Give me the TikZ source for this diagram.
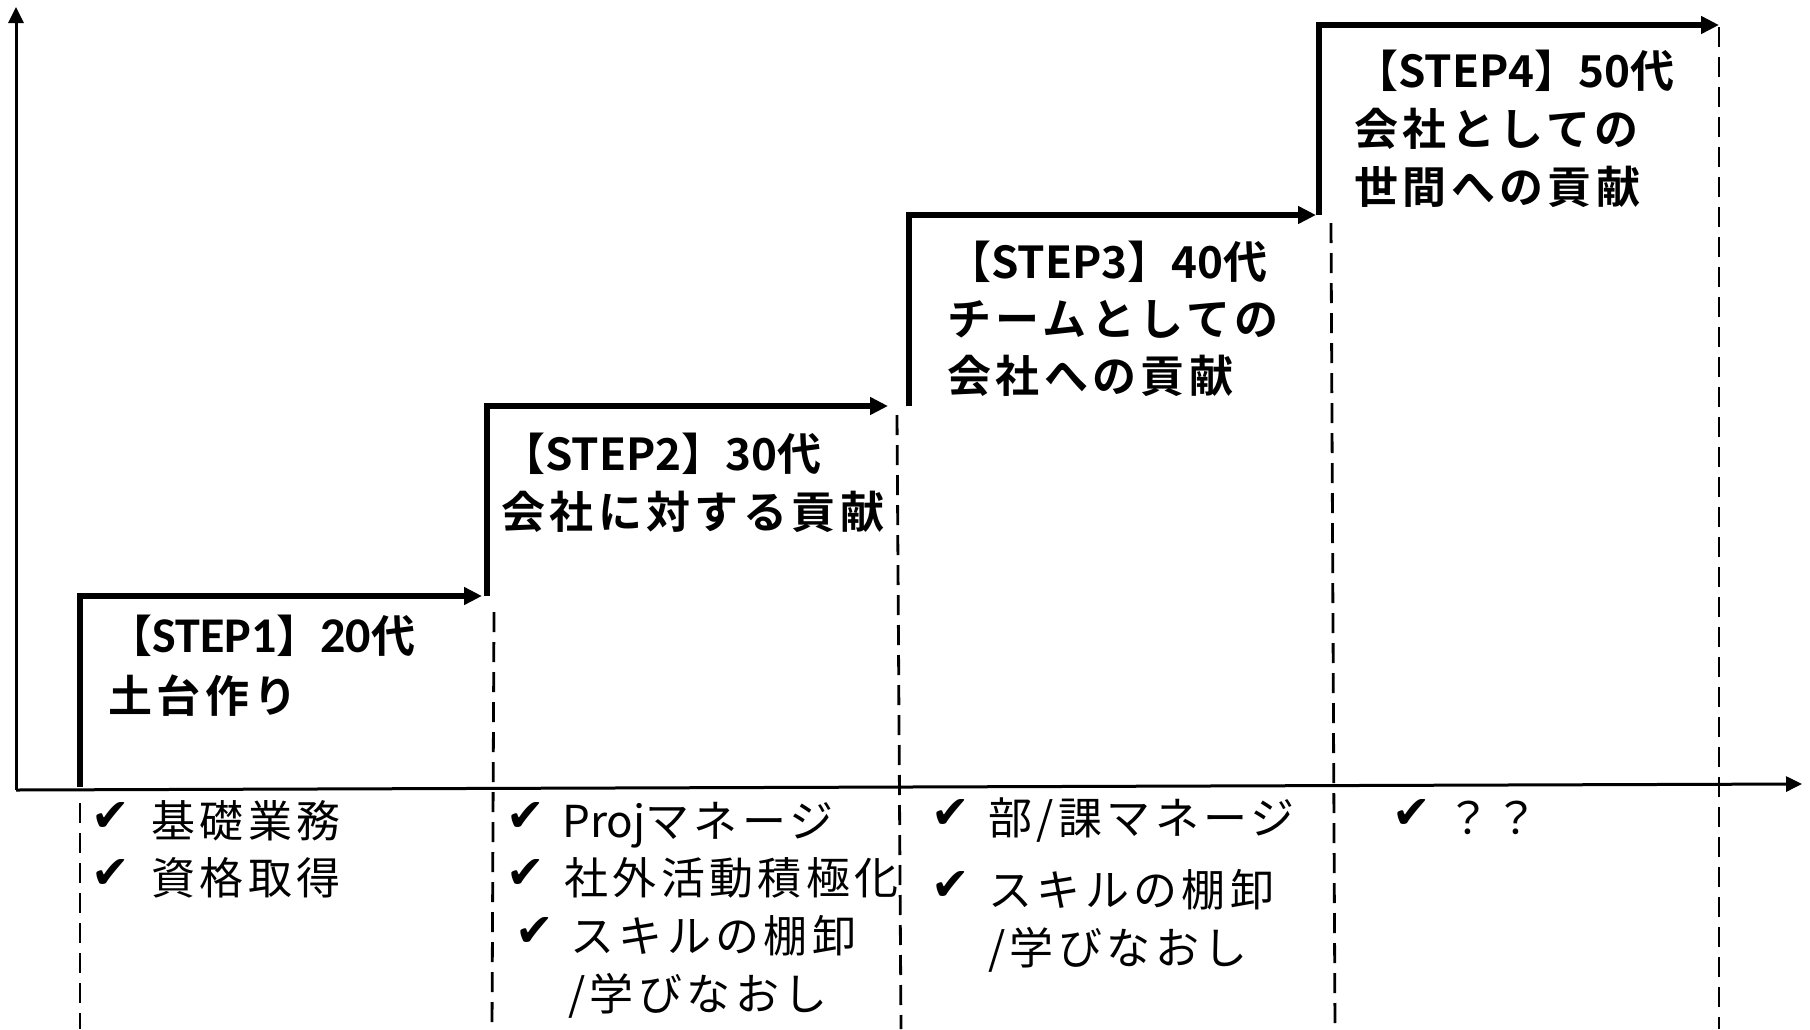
\documentclass[tikz,border=0pt]{standalone}
\usepackage{fontspec}
\usetikzlibrary{arrows.meta}
\newfontfamily\jpB{Noto Sans CJK JP Bold}[LetterSpace=10]
\newfontfamily\jpBn{Noto Sans CJK JP Bold}
\newfontfamily\jpR{Noto Sans CJK JP}[LetterSpace=10]
\newfontfamily\jpRn{Noto Sans CJK JP}
\newfontfamily\calB{Carlito Bold}
\newfontfamily\djv{DejaVu Sans}
\newcommand{\latb}[1]{{\jpBn #1}}
\newcommand{\latr}[1]{{\jpRn #1}}
\newcommand{\calt}[1]{{\calB\fontsize{50}{56}\selectfont #1}}
\tikzset{
  axisline/.style={line width=3pt, -{Triangle[length=16pt,width=15pt]}},
  stair/.style={line width=5.5pt, line join=miter, -{Triangle[length=18pt,width=17pt]}},
  guide/.style={line width=2.8pt, dash pattern=on 20pt off 10pt},
  ttl/.style={anchor=base west, inner sep=0pt, font=\jpB\fontsize{44}{52}\selectfont},
  itm/.style={anchor=base west, inner sep=0pt, font=\jpR\fontsize{44}{52}\selectfont},
  chk/.style={anchor=base west, inner sep=0pt, font=\djv\fontsize{46}{52}\selectfont},
}
\begin{document}
\begin{tikzpicture}[x=1pt,y=-1pt]
\useasboundingbox (0,0) rectangle (1810,1029);
% axes
\coordinate (o) at (16,790);
\coordinate (ytop) at (16,7);
\coordinate (xend) at (1802,784);
\draw[axisline] (o) -- (ytop);
\draw[axisline] (o) -- (xend);
% stairs
\coordinate (s1b) at (80,787);   \coordinate (s1e) at (482,596);
\coordinate (s2b) at (487,596);  \coordinate (s2e) at (888,406);
\coordinate (s3b) at (909,406);  \coordinate (s3e) at (1316,215);
\coordinate (s4b) at (1319,215); \coordinate (s4e) at (1719,25);
\draw[stair] (s1b) |- (s1e);
\draw[stair] (s2b) |- (s2e);
\draw[stair] (s3b) |- (s3e);
\draw[stair] (s4b) |- (s4e);
% dashed guides
\coordinate (d1t) at (80,803);   \coordinate (d1b) at (80,1029);
\coordinate (d2t) at (494,612);  \coordinate (d2b) at (492,1029);
\coordinate (d3t) at (897,415);  \coordinate (d3b) at (901,1029);
\coordinate (d4t) at (1331,223); \coordinate (d4b) at (1335,1029);
\coordinate (d5t) at (1719,27);  \coordinate (d5b) at (1719,1029);
\draw[guide] (d1t) -- (d1b);
\draw[guide] (d2t) -- (d2b);
\draw[guide] (d3t) -- (d3b);
\draw[guide] (d4t) -- (d4b);
\draw[guide] (d5t) -- (d5b);
% titles
\node[ttl] (t1a) at (108,652) {\jpBn 【\calt{STEP1}】\calt{20}代};
\node[ttl] (t1b) at (108,712) {土台作り};
\node[ttl] (t2a) at (501,470) {【\latb{STEP2}】\latb{30}代};
\node[ttl] (t2b) at (501,528) {会社に対する貢献};
\node[ttl] (t3a) at (947,278) {【\latb{STEP3}】\latb{40}代};
\node[ttl] (t3b) at (947,335) {チームとしての};
\node[ttl] (t3c) at (947,392) {会社への貢献};
\node[ttl] (t4a) at (1354,87) {【\latb{STEP4}】\latb{50}代};
\node[ttl] (t4b) at (1354,145) {会社としての};
\node[ttl] (t4c) at (1354,203) {世間への貢献};
% lists
\node[chk] (c11) at (91,831) {✔};
\node[itm] (l11) at (151,837) {基礎業務};
\node[chk] (c12) at (91,888) {✔};
\node[itm] (l12) at (151,894) {資格取得};
\node[chk] (c21) at (506,831) {✔};
\node[itm] (l21) at (562,837) {\latr{Proj}マネージ};
\node[chk] (c22) at (506,888) {✔};
\node[itm] (l22) at (564,894) {社外活動積極化};
\node[chk] (c23) at (515,946) {✔};
\node[itm] (l23) at (570,952) {スキルの棚卸};
\node[itm] (l24) at (568,1010) {/学びなおし};
\node[chk] (c31) at (931,828) {✔};
\node[itm] (l31) at (988,834) {部/課マネージ};
\node[chk] (c32) at (931,900) {✔};
\node[itm] (l32) at (988,906) {スキルの棚卸};
\node[itm] (l33) at (988,964) {/学びなおし};
\node[chk] (c41) at (1392,828) {✔};
\node[itm] (l41) at (1446,834) {？？};
\end{tikzpicture}
\end{document}
